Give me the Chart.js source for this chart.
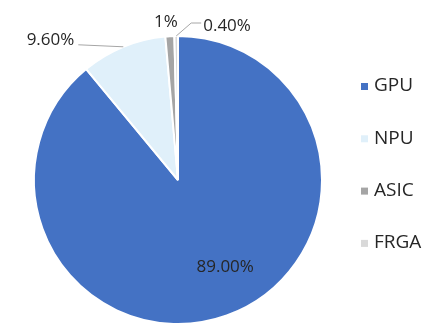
<!DOCTYPE html>
<html>
<head>
<meta charset="utf-8">
<script src="https://cdn.jsdelivr.net/npm/chart.js@4"></script>
<style>
  html, body { margin: 0; padding: 0; background: #fff; }
  #wrap { width: 444px; height: 333px; position: relative; }
</style>
</head>
<body>
<div id="wrap"><canvas id="pie"></canvas></div>
<script>
'use strict';

// ─── data ───
const categories = ['GPU', 'NPU', 'ASIC', 'FRGA'];
const shares = [89.00, 9.60, 1.00, 0.40];
const shareLabels = ['89.00%', '9.60%', '1%', '0.40%'];
const sliceColors = ['#4472C4', '#E0F0FA', '#A5A5A5', '#D9D9D9'];

const FONT = "'Open Sans', 'Noto Sans', sans-serif";
const TEXT = '#262626';

// label placement per slice: offset from the arc's outer midpoint
const labelStyle = [
  { inside: true },
  { dx: -49, dy: -6.5, align: 'right', leader: true },
  { dx: -4, dy: -14, align: 'center', leader: false },
  { dx: 27, dy: -10, align: 'left', leader: true },
];

const labelsPlugin = {
  id: 'pctLabels',
  afterDatasetsDraw(chart) {
    const ctx = chart.ctx;
    const meta = chart.getDatasetMeta(0);
    ctx.save();
    ctx.font = '17px ' + FONT;
    ctx.fillStyle = TEXT;
    ctx.textBaseline = 'middle';
    meta.data.forEach((arc, i) => {
      const p = arc.getProps(['x', 'y', 'startAngle', 'endAngle', 'outerRadius'], true);
      const mid = (p.startAngle + p.endAngle) / 2;
      const st = labelStyle[i];
      if (st.inside) {
        const r = p.outerRadius * 0.66;
        ctx.textAlign = 'center';
        ctx.fillText(shareLabels[i], p.x + Math.cos(mid) * r + 15, p.y + Math.sin(mid) * r - 2);
        return;
      }
      const ax = p.x + Math.cos(mid) * p.outerRadius;
      const ay = p.y + Math.sin(mid) * p.outerRadius;
      const tx = ax + st.dx;
      const ty = ay + st.dy;
      if (st.leader) {
        ctx.strokeStyle = '#A6A6A6';
        ctx.lineWidth = 1;
        ctx.beginPath();
        ctx.moveTo(ax, ay);
        if (st.align === 'right') {
          ctx.lineTo(tx + 4, ty + 4.5);
        } else {
          ctx.lineTo(tx - 12, ty - 3);
          ctx.lineTo(tx - 2, ty - 3);
        }
        ctx.stroke();
      }
      ctx.textAlign = st.align;
      ctx.fillText(shareLabels[i], tx, ty);
    });
    ctx.restore();
  }
};

const legendPlugin = {
  id: 'sideLegend',
  afterDraw(chart) {
    const ctx = chart.ctx;
    const colors = chart.data.datasets[0].backgroundColor;
    ctx.save();
    ctx.font = '19px ' + FONT;
    ctx.textBaseline = 'middle';
    ctx.textAlign = 'left';
    chart.data.labels.forEach((lab, i) => {
      const y = 86 + i * 52.3;
      ctx.fillStyle = colors[i];
      ctx.fillRect(361, y - 3, 7, 7);
      ctx.fillStyle = TEXT;
      ctx.fillText(lab, 374, y);
    });
    ctx.restore();
  }
};

new Chart(document.getElementById('pie'), {
  type: 'pie',
  data: {
    labels: categories,
    datasets: [{
      data: shares,
      backgroundColor: sliceColors,
      borderColor: '#ffffff',
      borderWidth: 2,
    }],
  },
  options: {
    responsive: true,
    maintainAspectRatio: false,
    animation: false,
    layout: { padding: { left: 33, right: 121, top: 35, bottom: 8 } },
    plugins: {
      legend: { display: false },
      tooltip: { enabled: false },
    },
  },
  plugins: [labelsPlugin, legendPlugin],
});
</script>
</body>
</html>
